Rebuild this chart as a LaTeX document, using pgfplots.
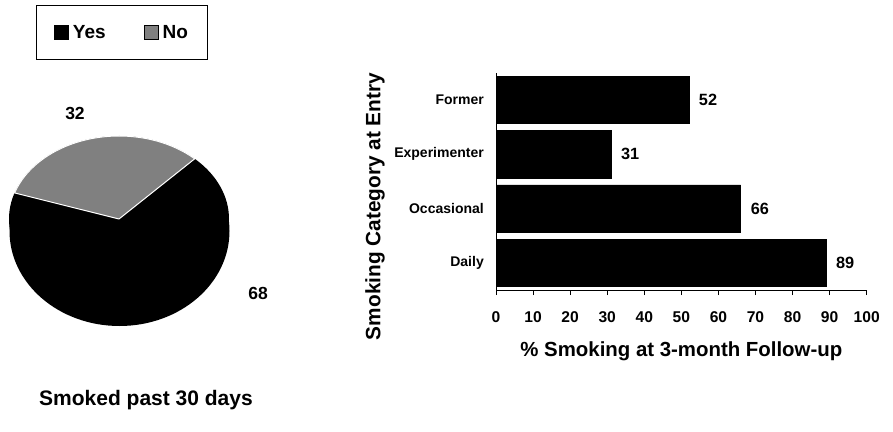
\documentclass[border=0pt]{standalone}
\usepackage{pgfplots}
\pgfplotsset{compat=1.18}
\usepackage{pgfplotstable}
\usepackage{fontspec}
\setmainfont{Liberation Sans}

\pgfplotstableread{
pos value
1 89
2 66
3 31
4 52
}\bardata

\pgfplotstableread{
label value
Yes 68
No 32
}\piedata

\begin{document}
\begin{tikzpicture}
\useasboundingbox (0pt,0pt) rectangle (893pt,431pt);
\pgfplotstablegetelem{1}{value}\of\piedata
\pgfmathsetmacro{\nostart}{46.5}
\pgfmathsetmacro{\noend}{46.5+3.6*\pgfplotsretval}
\begin{axis}[at={(0pt,0pt)}, anchor=south west, scale only axis,
  width=893pt, height=431pt, xmin=0, xmax=893, ymin=0, ymax=431,
  hide axis, clip=false,
  legend columns=2,
  legend image code/.code={\fill[#1] (0pt,-7pt) rectangle (14pt,7pt);},
  legend style={at={(axis description cs:0.1366,0.9246)}, anchor=center,
    draw=black, line width=1pt, font=\bfseries\fontsize{19}{22}\selectfont,
    inner xsep=17pt, inner ysep=18pt,
    /tikz/every odd column/.append style={column sep=2pt},
    /tikz/every even column/.append style={column sep=36pt}},
]
\addlegendimage{fill=black}
\addlegendentry{Yes}
\addlegendimage{fill=gray}
\addlegendentry{No}
\fill[black] (axis cs:119.5,200) ellipse [x radius=110pt, y radius=95pt];
\fill[black] (axis cs:119,212) ellipse [x radius=110pt, y radius=83pt];
\fill[gray, draw=white, line width=1pt, line join=round] (axis cs:119,212) -- ++(\nostart:110pt and 83pt)
   arc[start angle=\nostart, end angle=\noend, x radius=110pt, y radius=83pt] -- cycle;
\node[font=\bfseries\fontsize{17.5}{20}\selectfont] at (axis cs:75,318) {32};
\node[font=\bfseries\fontsize{17.5}{20}\selectfont] at (axis cs:258,138) {68};
\node[font=\bfseries\fontsize{21}{25}\selectfont] at (axis cs:146,31) {Smoked past 30 days};
\end{axis}

\begin{axis}[at={(496pt,141pt)}, anchor=south west, scale only axis,
  width=370.7pt, height=217.3pt,
  xbar, bar width=0.87,
  xmin=0, xmax=100, ymin=0.5, ymax=4.5,
  axis x line*=bottom, axis y line*=left,
  axis line style={line width=0.9pt, -},
  xtick={0,10,...,100}, ytick={1,2,3,4},
  minor ytick={0.5,1.5,2.5,3.5,4.5},
  yticklabels={Daily,Occasional,Experimenter,Former},
  tick align=outside, major tick length=5pt, minor tick length=2.5pt,
  xtick style={line width=0.9pt, black},
  ytick style={draw=none},
  minor tick style={line width=0.8pt, black, draw=black},
  xticklabel style={font=\bfseries\fontsize{15.6}{18}\selectfont, anchor=center, yshift=-22pt,
    /pgf/number format/assume math mode=true},
  yticklabel style={font=\bfseries\fontsize{14}{17}\selectfont, anchor=east, inner sep=0pt, xshift=-7pt},
  xlabel={\% Smoking at 3-month Follow-up},
  xlabel style={font=\bfseries\fontsize{20.4}{24}\selectfont, at={(axis description cs:0.5,-0.284)}, anchor=center},
  ylabel={Smoking Category at Entry},
  ylabel style={font=\bfseries\fontsize{20.8}{24}\selectfont, at={(axis description cs:-0.326,0.384)}, anchor=center},
  point meta=x,
  nodes near coords,
  nodes near coords align={horizontal},
  nodes near coords style={font=\bfseries\fontsize{16.3}{19}\selectfont, anchor=west, inner sep=0pt, xshift=10pt,
    /pgf/number format/assume math mode=true},
]
\addplot[fill=black, draw=black] table[x=value, y=pos]{\bardata};
\end{axis}
\end{tikzpicture}
\end{document}
